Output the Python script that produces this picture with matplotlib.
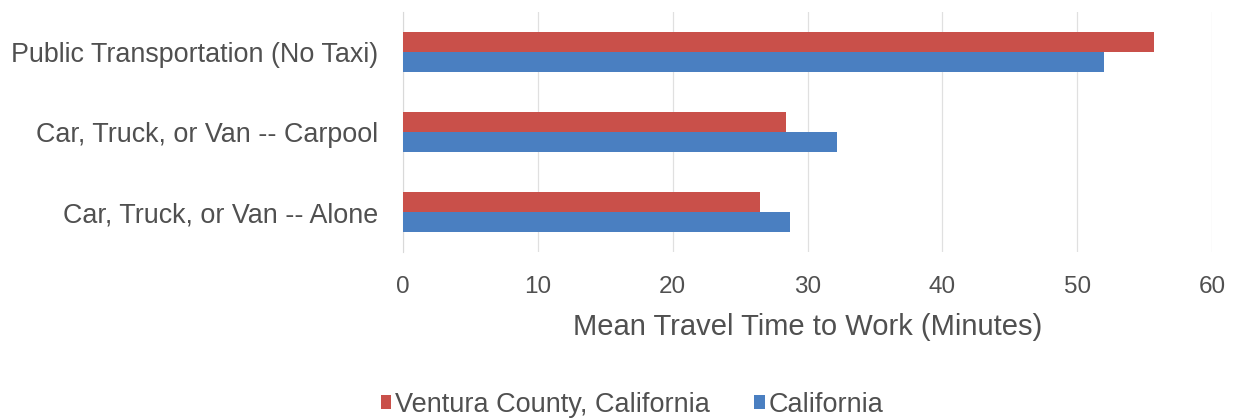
import matplotlib
matplotlib.use("Agg")
import matplotlib.pyplot as plt
import numpy as np

plt.rcParams["font.family"] = ["Liberation Sans", "DejaVu Sans"]

categories = ["Car, Truck, or Van -- Alone", "Car, Truck, or Van -- Carpool", "Public Transportation (No Taxi)"]
ventura = [26.5, 28.4, 55.7]
california = [28.7, 32.2, 52.0]
series_names = ["Ventura County, California", "California"]
xticks = [0, 10, 20, 30, 40, 50, 60]

red = "#C9504A"
blue = "#4A7FC1"
txt = "#505050"

fig = plt.figure(figsize=(12.38, 4.19), dpi=100)
ax = fig.add_axes([403/1238, 1-252/419, (1212-403)/1238, 240/419])

y = np.arange(len(categories))
h = 0.25
ax.barh(y + h/2, ventura, height=h, color=red, label=series_names[0], zorder=3)
ax.barh(y - h/2, california, height=h, color=blue, label=series_names[1], zorder=3)

ax.set_xlim(0, 60)
ax.set_ylim(-0.5, 2.5)
ax.set_xticks(xticks)
ax.set_xticklabels([str(t) for t in xticks], fontsize=17.5, color=txt)
ax.set_yticks(y)
ax.set_yticklabels(categories, fontsize=19.4, color=txt)
ax.tick_params(axis="both", length=0)
ax.tick_params(axis="x", pad=17)
ax.tick_params(axis="y", pad=18)
ax.grid(axis="x", color="#E0E0E0", linewidth=0.9, zorder=0)
for s in ["top", "right", "bottom"]:
    ax.spines[s].set_visible(False)
ax.spines["left"].set_color("#D9D9D9")
ax.set_xlabel("Mean Travel Time to Work (Minutes)", fontsize=21, color=txt, labelpad=11)

handles, labels = ax.get_legend_handles_labels()
fig.legend(handles, labels, loc="center", bbox_to_anchor=(632/1238, 1-405/419), ncol=2,
           frameon=False, fontsize=19.5, handlelength=0.4, handleheight=0.4,
           handletextpad=0.15, columnspacing=1.6, labelcolor=txt)

fig.savefig("out.png", dpi=100)
